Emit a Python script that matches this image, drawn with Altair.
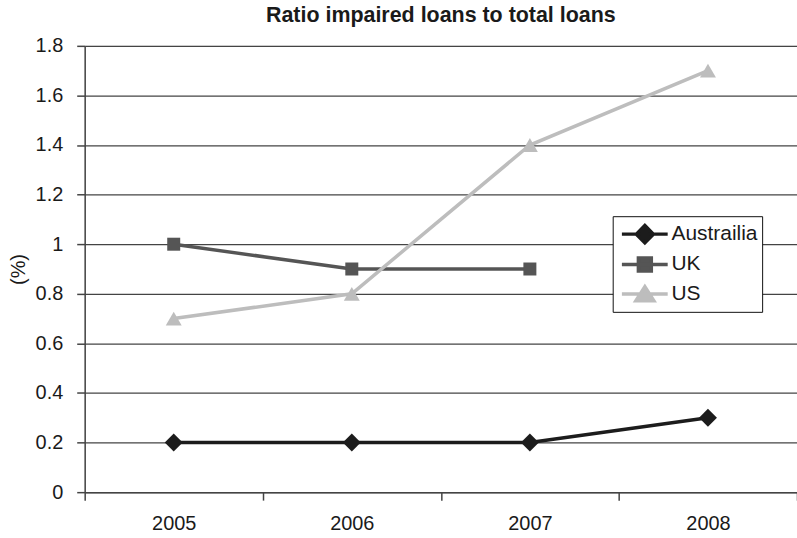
import altair as alt
import pandas as pd

# Ratio of impaired loans to total loans (%), by year
years = ["2005", "2006", "2007", "2008"]
series_names = ["Austrailia", "UK", "US"]
australia = [0.2, 0.2, 0.2, 0.3]
uk = [1.0, 0.9, 0.9, None]
us = [0.7, 0.8, 1.4, 1.7]

colors = ["#1c1c1c", "#555555", "#bdbdbd"]
marker_shapes = ["diamond", "square", "triangle-up"]
marker_sizes = [324, 170, 256]

# Legend glyphs: a line segment with the marker in its middle.
# Units are half the 24px symbol box; the segment runs ~46px.
legend_paths = [
    "M-0.73,0L3.1,0M1.19,-0.72L1.9,0L1.19,0.72L0.48,0Z",
    "M-0.73,0L3.1,0M0.65,-0.54L1.73,-0.54L1.73,0.54L0.65,0.54Z",
    "M-0.73,0L3.1,0M1.19,-0.6L1.94,0.58L0.44,0.58Z",
]

rows = []
for name, vals in zip(series_names, [australia, uk, us]):
    for yr, v in zip(years, vals):
        if v is not None:
            rows.append({"year": yr, "series": name, "value": v})
df = pd.DataFrame(rows)

FONT = "Liberation Sans"

x_enc = alt.X(
    "year:N",
    title=None,
    sort=years,
    scale=alt.Scale(paddingInner=0, paddingOuter=0),
    axis=alt.Axis(
        tickBand="extent",
        labelAngle=0,
        labelFontSize=20,
        labelFont=FONT,
        labelColor="#1a1a1a",
        labelPadding=13,
        tickSize=8,
        tickColor="#444444",
        tickWidth=1.5,
        domainColor="#444444",
        domainWidth=1.5,
        grid=False,
    ),
)
y_enc = alt.Y(
    "value:Q",
    title="(%)",
    scale=alt.Scale(domain=[0, 1.8], nice=False),
    axis=alt.Axis(
        values=[0, 0.2, 0.4, 0.6, 0.8, 1.0, 1.2, 1.4, 1.6, 1.8],
        format="~g",
        labelFontSize=20,
        labelFont=FONT,
        labelColor="#1a1a1a",
        labelPadding=14,
        tickSize=8,
        tickColor="#444444",
        tickWidth=1.5,
        domainColor="#444444",
        domainWidth=1.5,
        grid=True,
        gridColor="#444444",
        gridWidth=1.3,
        titleFontSize=20,
        titleFont=FONT,
        titleFontWeight="normal",
        titleColor="#1a1a1a",
        titlePadding=7,
    ),
)

base = alt.Chart(df)

# One line + marker pair per series, drawn in series order
series_layers = []
for name, col, shape, sz in zip(series_names, colors, marker_shapes, marker_sizes):
    sub = base.transform_filter(alt.datum.series == name)
    series_layers.append(
        sub.mark_line(strokeWidth=3.5, color=col).encode(x=x_enc, y=y_enc)
    )
    series_layers.append(
        sub.mark_point(filled=True, shape=shape, size=sz, color=col, opacity=1).encode(
            x=alt.X("year:N", sort=years), y="value:Q"
        )
    )

legend_props = dict(
    title=None,
    orient="none",
    legendX=530,
    legendY=171,
    labelFontSize=21,
    labelFont=FONT,
    labelColor="#1a1a1a",
    labelOffset=27,
    symbolSize=576,
    symbolStrokeWidth=3.5,
    symbolOpacity=1,
    rowPadding=0.5,
    padding=4,
    strokeColor="#111111",
    fillColor="white",
)

# Invisible layer that carries the legend (line + marker glyphs)
legend_layer = base.mark_point(filled=True, opacity=0, size=576).encode(
    x=alt.X("year:N", sort=years),
    y="value:Q",
    fill=alt.Fill(
        "series:N",
        scale=alt.Scale(domain=series_names, range=colors),
        legend=alt.Legend(**legend_props),
    ),
    stroke=alt.Stroke(
        "series:N",
        scale=alt.Scale(domain=series_names, range=colors),
        legend=alt.Legend(**legend_props),
    ),
    shape=alt.Shape(
        "series:N",
        scale=alt.Scale(domain=series_names, range=legend_paths),
        legend=alt.Legend(**legend_props),
    ),
)

chart = (
    alt.layer(*series_layers, legend_layer)
    .properties(
        width=715,
        height=448,
        title=alt.TitleParams(
            "Ratio impaired loans to total loans",
            fontSize=21.5,
            font=FONT,
            fontWeight="bold",
            color="#1a1a1a",
            anchor="middle",
            frame="group",
            baseline="alphabetic",
            offset=11,
            dy=19,
        ),
        padding={"left": 85, "top": 45, "right": 0, "bottom": 45},
        autosize=alt.AutoSizeParams(type="none"),
    )
    .configure_view(stroke=None)
    .configure_legend(strokeWidth=2)
    .configure(background="white")
)

chart.save("out.html", embed_options={"renderer": "svg", "actions": False})
